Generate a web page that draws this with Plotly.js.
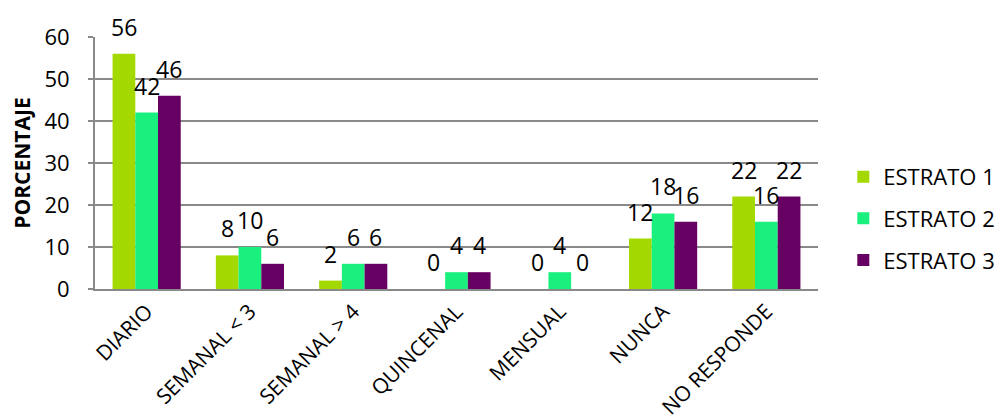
<!DOCTYPE html>
<html>
<head>
<meta charset="utf-8">
<script src="https://cdn.plot.ly/plotly-3.0.1.min.js"></script>
<style>
  html, body { margin: 0; padding: 0; background: #fff; }
  #chart { width: 1003px; height: 417px; }
</style>
</head>
<body>
<div id="chart"></div>
<script>
// Frecuencia por estrato (porcentaje)
const categories = ['DIARIO', 'SEMANAL < 3', 'SEMANAL > 4', 'QUINCENAL', 'MENSUAL', 'NUNCA', 'NO RESPONDE'];
const estrato1 = [56, 8, 2, 0, 0, 12, 22];
const estrato2 = [42, 10, 6, 4, 4, 18, 16];
const estrato3 = [46, 6, 6, 4, 0, 16, 22];
const seriesNames = ['ESTRATO 1', 'ESTRATO 2', 'ESTRATO 3'];
const yTicks = [0, 10, 20, 30, 40, 50, 60];

const colors = ['#A3D900', '#1AF07E', '#660062'];
const font = 'Open Sans, Liberation Sans, sans-serif';

const W = 1003, H = 417;
const margin = { l: 95, r: 185, t: 37, b: 128, autoexpand: false };
const bargap = 0.34;

const allSeries = [estrato1, estrato2, estrato3];

const traces = allSeries.map((vals, i) => ({
  type: 'bar',
  name: seriesNames[i],
  legendgroup: 'g' + i,
  x: categories,
  y: vals,
  marker: { color: colors[i], line: { width: 0 } },
  hoverinfo: 'skip'
}));

// value labels above each bar, shifted sideways to the bar's slot in the group
const catWidth = (W - margin.l - margin.r) / categories.length;
const barWidth = catWidth * (1 - bargap) / allSeries.length;
const annotations = [];
allSeries.forEach((vals, i) => {
  vals.forEach((v, j) => {
    annotations.push({
      x: categories[j], y: v, xref: 'x', yref: 'y',
      text: String(v), showarrow: false,
      xanchor: 'center', yanchor: 'bottom',
      xshift: (i - 1) * barWidth, yshift: 9,
      font: { family: font, size: 23, color: '#000' }
    });
  });
});

const layout = {
  width: W,
  height: H,
  margin: margin,
  paper_bgcolor: '#fff',
  plot_bgcolor: '#fff',
  barmode: 'group',
  bargap: bargap,
  bargroupgap: 0,
  font: { family: font, size: 22, color: '#000' },
  showlegend: true,
  legend: {
    x: 1.035, y: 0.28, xanchor: 'left', yanchor: 'middle',
    font: { family: font, size: 22, color: '#000' },
    tracegroupgap: 10,
    itemclick: false
  },
  annotations: annotations,
  xaxis: {
    type: 'category',
    tickangle: -45,
    showgrid: false,
    showline: true,
    linecolor: '#898989',
    linewidth: 2,
    ticks: '',
    tickfont: { family: font, size: 21, color: '#000' },
    automargin: false,
    fixedrange: true
  },
  yaxis: {
    range: [0, 60],
    tickvals: yTicks,
    ticktext: yTicks.map(String),
    showgrid: true,
    gridcolor: '#898989',
    gridwidth: 1.5,
    showline: true,
    linecolor: '#898989',
    linewidth: 2,
    ticks: 'outside',
    ticklen: 5,
    tickcolor: '#898989',
    tickwidth: 1.5,
    ticklabelstandoff: 14,
    zeroline: false,
    tickfont: { family: font, size: 22, color: '#000' },
    title: { text: '<b>PORCENTAJE</b>', font: { family: font, size: 21, color: '#000' }, standoff: 8 },
    automargin: false,
    fixedrange: true
  }
};

Plotly.newPlot('chart', traces, layout, { displayModeBar: false, staticPlot: true });
</script>
</body>
</html>
